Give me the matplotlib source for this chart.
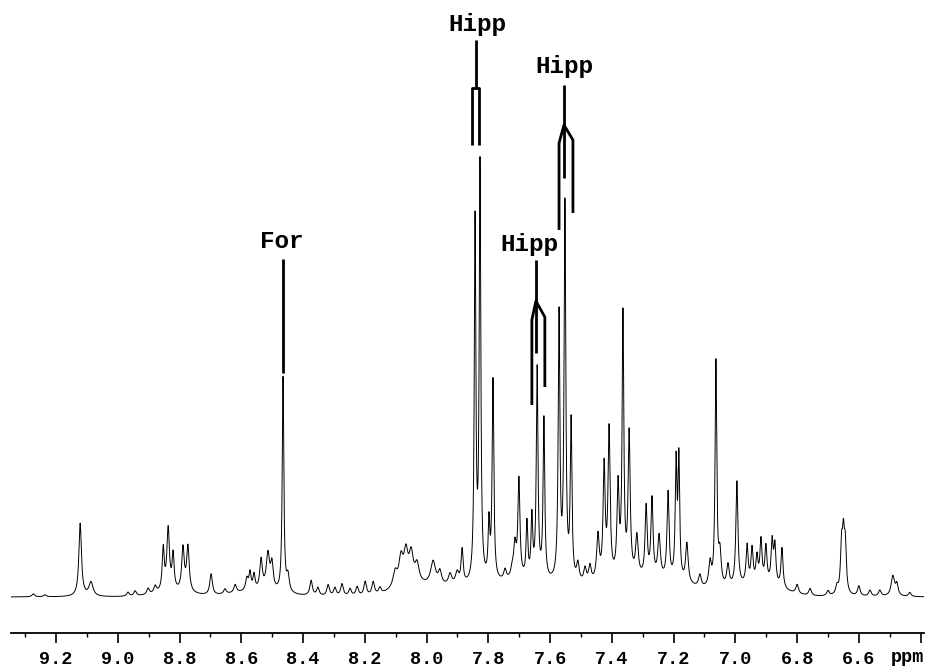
import numpy as np
import matplotlib
matplotlib.use('Agg')
import matplotlib.pyplot as plt

# 峰位置 (ppm)、高度、半高宽 (ppm)
peak_ppm = [9.274, 9.236, 9.122, 9.087, 8.967, 8.944, 8.902, 8.879,
            8.853, 8.837, 8.821, 8.789, 8.773, 8.698, 8.653, 8.620,
            8.582, 8.572, 8.559, 8.536, 8.514, 8.501, 8.465, 8.449,
            8.374, 8.352, 8.319, 8.297, 8.274, 8.248, 8.225, 8.199, 8.173, 8.151,
            8.102, 8.083, 8.067, 8.050, 8.031, 7.979, 7.957, 7.924, 7.901, 7.885,
            7.843, 7.827, 7.798, 7.785, 7.746, 7.723, 7.714, 7.701,
            7.675, 7.659, 7.642, 7.620, 7.571, 7.552, 7.532,
            7.510, 7.487, 7.471, 7.445, 7.425, 7.409, 7.380, 7.364, 7.344,
            7.319, 7.289, 7.270, 7.247, 7.218, 7.192, 7.183, 7.157,
            7.115, 7.082, 7.063, 7.050, 7.024, 6.995,
            6.962, 6.946, 6.930, 6.917, 6.901, 6.881, 6.872, 6.849,
            6.800, 6.758, 6.700, 6.671, 6.656, 6.650, 6.644,
            6.600, 6.564, 6.532, 6.490, 6.477, 6.435]
peak_height = [3, 2, 73, 14, 4, 5, 6, 7,
               42, 62, 35, 43, 45, 21, 5, 8,
               12, 17, 15, 30, 36, 25, 215, 16,
               15, 8, 11, 8, 12, 7, 9, 14, 13, 6,
               15, 26, 30, 28, 18, 24, 13, 11, 12, 34,
               360, 415, 55, 200, 10, 8, 32, 98,
               55, 60, 210, 160, 265, 375, 158,
               18, 14, 16, 45, 112, 148, 90, 260, 142,
               40, 70, 78, 42, 87, 115, 120, 40,
               12, 24, 225, 32, 22, 105,
               38, 34, 25, 42, 36, 42, 38, 40,
               9, 7, 5, 8, 45, 50, 45,
               10, 6, 6, 20, 11, 4]
peak_width = [0.010, 0.010, 0.010, 0.016, 0.010, 0.010, 0.010, 0.010,
              0.008, 0.010, 0.008, 0.010, 0.010, 0.010, 0.010, 0.010,
              0.010, 0.008, 0.008, 0.010, 0.013, 0.010, 0.006, 0.010,
              0.010, 0.010, 0.010, 0.010, 0.010, 0.010, 0.010, 0.010, 0.010, 0.010,
              0.016, 0.016, 0.016, 0.016, 0.016, 0.019, 0.013, 0.013, 0.013, 0.008,
              0.006, 0.006, 0.0065, 0.0065, 0.010, 0.010, 0.010, 0.008,
              0.0065, 0.0065, 0.0065, 0.0065, 0.0065, 0.0065, 0.0065,
              0.010, 0.010, 0.010, 0.010, 0.008, 0.008, 0.008, 0.0065, 0.008,
              0.010, 0.008, 0.008, 0.010, 0.008, 0.0065, 0.0065, 0.010,
              0.010, 0.010, 0.0065, 0.010, 0.010, 0.008,
              0.008, 0.008, 0.008, 0.008, 0.008, 0.008, 0.008, 0.008,
              0.010, 0.010, 0.010, 0.010, 0.008, 0.008, 0.008,
              0.010, 0.010, 0.010, 0.013, 0.010, 0.010]

# 宽的基线包
hump_ppm = [8.82, 8.55, 8.06, 7.95, 7.70, 7.30, 6.92]
hump_height = [4, 5, 8, 7, 14, 16, 11]
hump_width = [0.06, 0.08, 0.05, 0.08, 0.12, 0.15, 0.07]

tick_major = [9.2, 9.0, 8.8, 8.6, 8.4, 8.2, 8.0, 7.8, 7.6, 7.4, 7.2, 7.0, 6.8, 6.6, 6.4]
tick_labels = ['9.2', '9.0', '8.8', '8.6', '8.4', '8.2', '8.0', '7.8', '7.6',
               '7.4', '7.2', '7.0', '6.8', '6.6', '']

x = np.linspace(9.346, 6.389, 20000)
y = np.zeros_like(x)
for p, h, w in zip(peak_ppm, peak_height, peak_width):
    y += h / (1 + ((x - p) / (w / 2)) ** 2)
for p, h, w in zip(hump_ppm, hump_height, hump_width):
    y += h * np.exp(-0.5 * ((x - p) / w) ** 2)

fig = plt.figure(figsize=(9.28, 6.70), dpi=100)
ax = fig.add_axes([11 / 928, 37 / 670, 913 / 928, 633 / 670])
ax.plot(x, y, color='black', lw=0.7)
ax.set_xlim(9.346, 6.389)
ax.set_ylim(-36, 597)

for s in ['top', 'left', 'right']:
    ax.spines[s].set_visible(False)
ax.spines['bottom'].set_linewidth(1.3)
ax.set_yticks([])
ax.set_xticks(tick_major)
ax.set_xticks(np.arange(6.5, 9.4, 0.2), minor=True)
ax.set_xticklabels(tick_labels, fontfamily='Liberation Mono', fontweight='bold', fontsize=13.3)
ax.tick_params(axis='x', which='major', length=7.5, width=1.2, direction='out', pad=5.5)
ax.tick_params(axis='x', which='minor', length=3, width=1.0, direction='out')
fig.text(907 / 928, 1 - 658 / 670, 'ppm', ha='center', va='center',
         fontfamily='Liberation Mono', fontweight='bold', fontsize=13.3)

# 标注
lab = dict(ha='center', va='center', fontfamily='Liberation Mono',
           fontweight='bold', fontsize=17.5)
lk = dict(color='black', lw=2.0, solid_capstyle='butt')

ax.text(8.468, 355, 'For', **lab)
ax.plot([8.465, 8.465], [338, 224], **lk)

ax.text(7.837, 572, 'Hipp', **lab)
ax.plot([7.8415, 7.8415], [557, 509], **lk)
ax.plot([7.853, 7.853, 7.830, 7.830], [452, 509, 509, 452], **lk)

ax.text(7.555, 530, 'Hipp', **lab)
ax.plot([7.555, 7.555], [512, 419], **lk)
ax.plot([7.571, 7.571, 7.555, 7.526, 7.526], [367, 454, 472, 457, 384], **lk)

ax.text(7.667, 352, 'Hipp', **lab)
ax.plot([7.646, 7.646], [337, 244], **lk)
ax.plot([7.659, 7.659, 7.646, 7.617, 7.617], [192, 277, 296, 280, 210], **lk)

fig.savefig('out.png', dpi=100)
